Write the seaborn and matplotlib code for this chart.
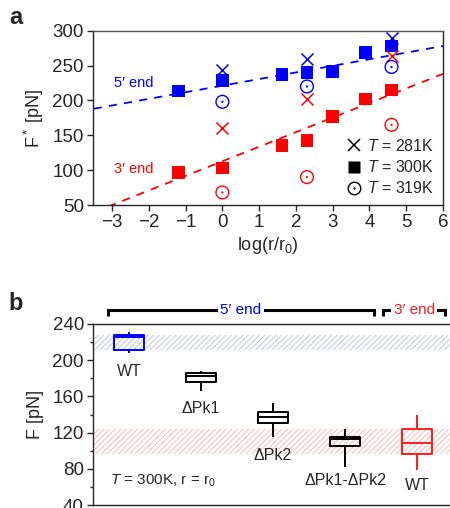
import numpy as np
import pandas as pd
import matplotlib
matplotlib.use("Agg")
import matplotlib.pyplot as plt
from matplotlib.path import Path
from matplotlib.lines import Line2D
import seaborn as sns

# ---------------- data: panel a ----------------
x_300 = [-1.2, 0.0, 1.62, 2.3, 3.0, 3.9, 4.6]
f5_300 = [213.5, 228, 237, 240, 242, 269, 278]
f3_300 = [97, 103, 135, 143, 177, 202, 215]
x_T = [0.0, 2.3, 4.6]
f5_281 = [244, 260, 289]
f5_319 = [198, 220, 248]
f3_281 = [161, 202, 263]
f3_319 = [68, 90, 165]
fit5 = (221.2, 9.47)    # intercept, slope
fit3 = (112.7, 20.9)
fit_x = [-3.5, 6.0]
legend_labels = [r"$T$ = 281K", r"$T$ = 300K", r"$T$ = 319K"]

# ---------------- data: panel b ----------------
box_names = ["WT", "ΔPk1", "ΔPk2", "ΔPk1-ΔPk2", "WT "]
# [low whisker, q1, median, q3, high whisker]
box_vals = [
    [208, 211.5, 226, 228, 231],
    [166, 176, 182, 185.5, 188],
    [115.5, 131, 137, 142.5, 152.5],
    [82, 105, 113, 115.5, 124],
    [79, 96.5, 109, 124.5, 140],
]
box_colors = ["#0000ff", "black", "black", "black", "#ff1a1a"]
band5 = (211.5, 228)
band3 = (96.5, 124.5)

sns.set_style("ticks")
plt.rcParams["font.family"] = ["Liberation Sans", "DejaVu Sans"]
plt.rcParams["mathtext.fontset"] = "custom"
plt.rcParams["mathtext.rm"] = "Liberation Sans"
plt.rcParams["mathtext.it"] = "Liberation Sans:italic"
plt.rcParams["hatch.linewidth"] = 0.6
plt.rcParams["axes.linewidth"] = 1.0

BLUE = "#0000ff"
RED = "#ff0000"
TICK_FS = 13.5
LAB_FS = 13

fig = plt.figure(figsize=(4.5, 5.08), dpi=100)
W, H = 450.0, 508.0

# ---------- panel a ----------
axa = fig.add_axes([93 / W, 1 - 205 / H, 350 / W, 174.3 / H])

circ = Path.make_compound_path(Path.unit_circle(),
                               Path.circle((0, 0), radius=0.07))

for (ic, sl), col in [(fit5, BLUE), (fit3, RED)]:
    yy = [ic + sl * v for v in fit_x]
    sns.lineplot(x=fit_x, y=yy, ax=axa, color=col, lw=1.3,
                 dashes=False, linestyle=(0, (4.5, 4)), legend=False)

for ys, col in [(f5_300, BLUE), (f3_300, RED)]:
    sns.scatterplot(x=x_300, y=ys, ax=axa, marker="s", s=85, color=col,
                    edgecolor="none", linewidth=0, zorder=3)
for ys, col in [(f5_281, BLUE), (f3_281, RED)]:
    sns.scatterplot(x=x_T, y=ys, ax=axa, marker="x", s=75, color=col,
                    linewidth=1.1, zorder=3)
for ys, col in [(f5_319, BLUE), (f3_319, RED)]:
    sns.scatterplot(x=x_T, y=ys, ax=axa, marker=circ, s=85,
                    facecolor="none", edgecolor=col, linewidth=1.0, zorder=3)

axa.set_xlim(-3.52, 6)
axa.set_ylim(50, 300)
axa.set_xticks(range(-3, 7))
axa.set_xticklabels(["\u22123", "\u22122", "\u22121", "0", "1", "2", "3", "4", "5", "6"])
axa.set_yticks([50, 100, 150, 200, 250, 300])
axa.tick_params(labelsize=TICK_FS, length=4.5, width=1, direction="out", pad=2)
axa.set_xlabel(r"log(r/r$_0$)", fontsize=LAB_FS, labelpad=3)
axa.set_ylabel(r"F$^*$ [pN]", fontsize=LAB_FS, labelpad=5)
for sp in axa.spines.values():
    sp.set_visible(True)
    sp.set_linewidth(1.0)
axa.spines["top"].set_color("#555555")

axa.text(-2.95, 225, "5\u2032 end", color=BLUE, fontsize=10.5, va="center", ha="left")
axa.text(-2.95, 101, "3\u2032 end", color=RED, fontsize=10.5, va="center", ha="left")

handles = [
    Line2D([], [], ls="none", marker="x", ms=8.5, mew=1.1, color="black"),
    Line2D([], [], ls="none", marker="s", ms=9, color="black", mec="none"),
    Line2D([], [], ls="none", marker=circ, ms=9, mfc="none", mec="black", mew=1.0),
]
axa.legend(handles, legend_labels, loc="lower right", frameon=False,
           fontsize=11.5, handletextpad=0.2, labelspacing=0.32,
           borderaxespad=0.15, handlelength=1.2)

fig.text(9 / W, 1 - 17 / H, "a", fontsize=17, fontweight="bold", va="center")

# ---------- panel b ----------
axb = fig.add_axes([93 / W, 1 - 505 / H, 360 / W, 181 / H])

rows = []
for i, (nm, vals) in enumerate(zip(box_names, box_vals)):
    for v in vals:
        rows.append({"pos": float(i), "cat": nm, "F": v})
df = pd.DataFrame(rows)

axb.axhspan(*band5, facecolor="none", edgecolor="#b4c2e0", hatch="//////",
            linewidth=0, zorder=0)
axb.axhspan(*band3, facecolor="none", edgecolor="#f7b0b0", hatch="//////",
            linewidth=0, zorder=0)

sns.boxplot(data=df, x="pos", y="F", hue="cat", hue_order=box_names,
            palette=box_colors, fill=False, whis=(0, 100), showcaps=False,
            width=0.42, native_scale=True, dodge=False, legend=False,
            linewidth=1.4, ax=axb)

axb.set_xlim(-0.5, 4.5)
axb.set_ylim(40, 240)
axb.set_yticks([40, 80, 120, 160, 200, 240])
axb.set_yticks([60, 100, 140, 180, 220], minor=True)
axb.set_xticks([])
axb.set_xlabel("")
axb.set_ylabel("F [pN]", fontsize=LAB_FS, labelpad=6)
axb.tick_params(axis="y", which="major", labelsize=TICK_FS, length=4.5, width=1, pad=2)
axb.tick_params(axis="y", which="minor", length=2.5, width=1)
for sp in ["left", "top", "bottom"]:
    axb.spines[sp].set_visible(True)
    axb.spines[sp].set_linewidth(1.0)
axb.spines["right"].set_visible(False)

# category labels
lab_y = [187, 147, 95, 67, 62]
for i, (nm, yv) in enumerate(zip(box_names, lab_y)):
    axb.text(i, yv, nm.strip(), fontsize=11.5, ha="center", va="center")
axb.text(-0.26, 67, r"$T$ = 300K, r = r$_0$", fontsize=11, ha="left", va="center")

# brackets
def bracket(x0, x1, label, color, ytop=255.5, ydn=248.5):
    axb.plot([x0, x0, x1, x1], [ydn, ytop, ytop, ydn], color="black", lw=2.2,
             clip_on=False, solid_joinstyle="miter", solid_capstyle="butt")
    axb.text((x0 + x1) / 2, ytop, label, color=color, fontsize=11,
             ha="center", va="center", clip_on=False,
             bbox=dict(facecolor="white", edgecolor="none", pad=1.5))

bracket(-0.29, 3.40, "5\u2032 end", BLUE)
bracket(3.53, 4.39, "3\u2032 end", "#ff1a1a")

fig.text(8 / W, 1 - 303 / H, "b", fontsize=17, fontweight="bold", va="center")

fig.savefig("out.png", dpi=100)
